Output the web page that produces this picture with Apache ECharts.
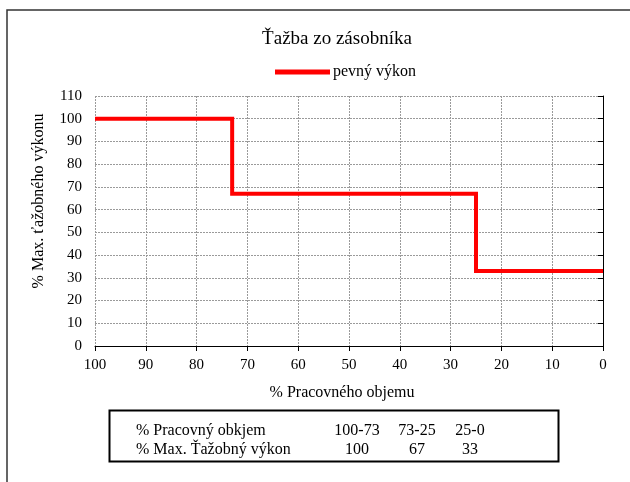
<!DOCTYPE html>
<html>
<head>
<meta charset="utf-8">
<title>Ťažba zo zásobníka</title>
<script src="https://cdn.jsdelivr.net/npm/echarts@6/dist/echarts.min.js"></script>
<style>
  html, body { margin: 0; padding: 0; background: #fff; }
  #chart { width: 630px; height: 482px; }
</style>
</head>
<body>
<div id="chart"></div>
<script>
// step line: volume (x) and max. power (y)
const volumePoints = [100, 73, 73, 25, 25, 0]
const powerPoints = [100, 100, 67, 67, 33, 33]

// table under the chart
const tableRowNames = ['% Pracovný obkjem', '% Max. Ťažobný výkon']
const tableRanges = ['100-73', '73-25', '25-0']
const tableValues = [100, 67, 33]

const font = '"Liberation Serif", "Times New Roman", serif'
const chart = echarts.init(document.getElementById('chart'))

const tableCols = [357, 417, 470]
const tableText = []
tableRowNames.forEach((name, r) => {
  tableText.push({
    type: 'text', left: 136, top: 423 + r * 19,
    style: { text: name, font: '16px ' + font, fill: '#000' }
  })
})
tableRanges.forEach((t, i) => {
  tableText.push({
    type: 'text', x: tableCols[i], y: 423,
    style: { text: t, font: '16px ' + font, fill: '#000', align: 'center' }
  })
  tableText.push({
    type: 'text', x: tableCols[i], y: 442,
    style: { text: String(tableValues[i]), font: '16px ' + font, fill: '#000', align: 'center' }
  })
})

chart.setOption({
  animation: false,
  textStyle: { fontFamily: font },
  title: {
    text: 'Ťažba zo zásobníka',
    left: 332, top: 25, textAlign: 'center',
    textStyle: { fontFamily: font, fontSize: 19, fontWeight: 'normal', color: '#000' }
  },
  legend: {
    left: 270, top: 59,
    icon: 'rect', itemWidth: 55, itemHeight: 5, itemGap: 5,
    textStyle: { fontFamily: font, fontSize: 16, color: '#000', padding: [0, 0, 0, -2] },
    data: ['pevný výkon']
  },
  grid: { left: 95, right: 27, top: 96, bottom: 136 },
  xAxis: {
    type: 'value', inverse: true, min: 0, max: 100, interval: 10,
    name: '% Pracovného objemu', nameLocation: 'middle', nameGap: 39,
    nameTextStyle: { fontFamily: font, fontSize: 16, color: '#000', padding: [0, 14, 0, 0] },
    axisLine: { show: true, lineStyle: { color: '#000', width: 1 } },
    axisTick: { show: true, length: 5, lineStyle: { color: '#000' } },
    axisLabel: { fontFamily: font, fontSize: 15, color: '#000', margin: 12 },
    splitLine: { show: true, lineStyle: { color: '#9a9a9a', type: [2, 1], width: 1 } }
  },
  yAxis: {
    type: 'value', min: 0, max: 110, interval: 10,
    name: '% Max. ťažobného výkonu', nameLocation: 'middle', nameGap: 48,
    nameTextStyle: { fontFamily: font, fontSize: 16, color: '#000', padding: [0, 0, 0, 40] },
    axisLine: { show: true, lineStyle: { color: '#000', width: 1 } },
    axisTick: { show: true, length: 5, lineStyle: { color: '#000' } },
    axisLabel: { fontFamily: font, fontSize: 15, color: '#000', margin: 13 },
    splitLine: { show: true, lineStyle: { color: '#9a9a9a', type: [2, 1], width: 1 } }
  },
  series: [{
    name: 'pevný výkon',
    type: 'line',
    symbol: 'none',
    color: '#ff0000',
    lineStyle: { color: '#ff0000', width: 4, join: 'miter' },
    data: volumePoints.map((v, i) => [v, powerPoints[i]])
  }],
  graphic: [
    {
      type: 'rect', z: -1, silent: true,
      shape: { x: 7, y: 10, width: 640, height: 500 },
      style: { fill: 'none', stroke: '#333', lineWidth: 1.5 }
    },
    {
      type: 'rect', silent: true,
      shape: { x: 109.5, y: 410.5, width: 449, height: 51 },
      style: { fill: '#fff', stroke: '#000', lineWidth: 2 }
    }
  ].concat(tableText)
})
</script>
</body>
</html>
